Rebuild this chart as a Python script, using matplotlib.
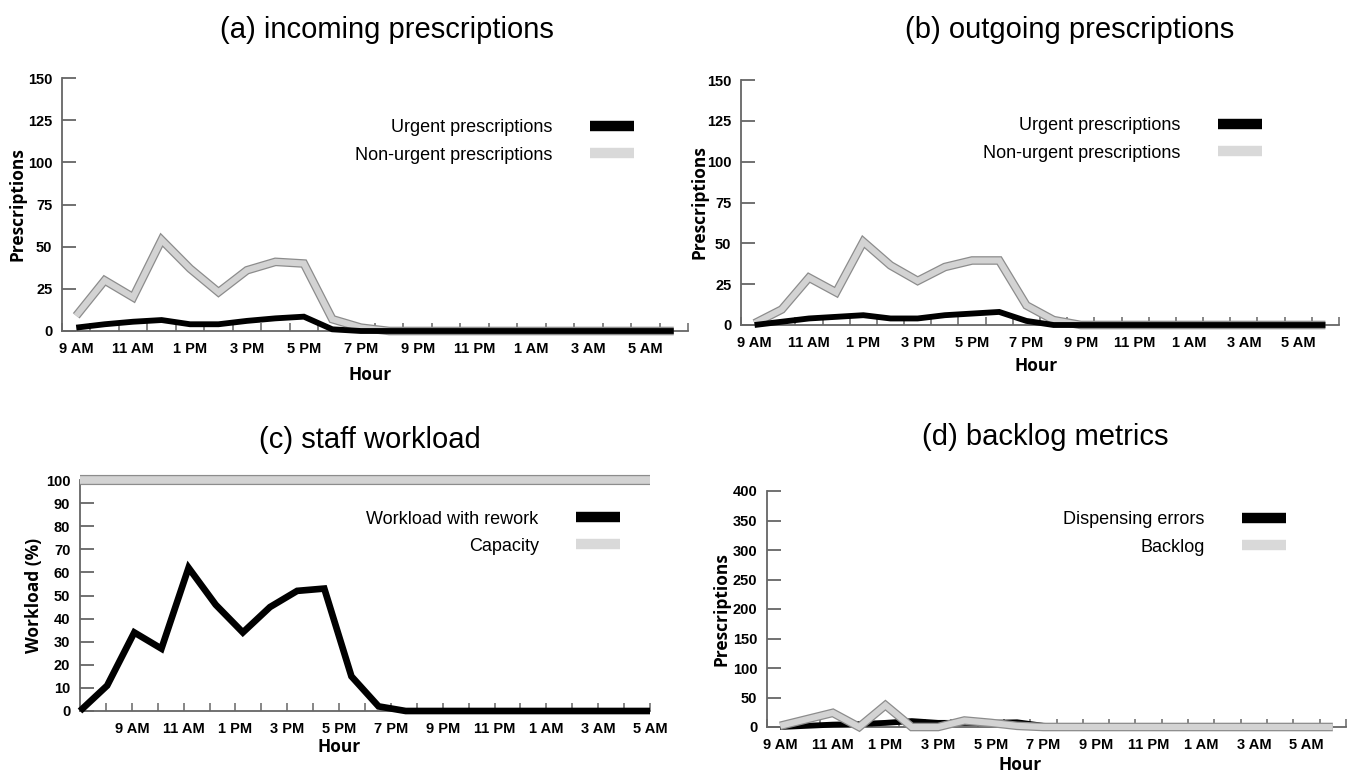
import matplotlib
matplotlib.use('Agg')
import matplotlib.pyplot as plt
import matplotlib.patheffects as pe
from matplotlib.lines import Line2D
from matplotlib.font_manager import FontProperties
import numpy as np

# ---------------- data ----------------
hours = ['9 AM', '10 AM', '11 AM', '12 PM', '1 PM', '2 PM', '3 PM', '4 PM', '5 PM',
         '6 PM', '7 PM', '8 PM', '9 PM', '10 PM', '11 PM', '12 AM', '1 AM', '2 AM',
         '3 AM', '4 AM', '5 AM', '6 AM']

a_urgent = [2, 4, 5.5, 6.5, 4, 4, 6, 7.5, 8.5, 1, 0, 0, 0, 0, 0, 0, 0, 0, 0, 0, 0, 0]
a_nonurgent = [9, 30, 20, 54, 37, 23, 36, 41, 40, 7, 2, 0, 0, 0, 0, 0, 0, 0, 0, 0, 0, 0]

b_urgent = [0, 2, 4, 5, 6, 4, 4, 6, 7, 8, 2.5, 0, 0, 0, 0, 0, 0, 0, 0, 0, 0, 0]
b_nonurgent = [1, 9.5, 29, 20, 51, 36.5, 27, 35.5, 39.5, 39.5, 12, 3, 0, 0, 0, 0, 0,
               0, 0, 0, 0, 0]

c_tick_hours = ['7 AM', '8 AM', '9 AM', '10 AM', '11 AM', '12 PM', '1 PM', '2 PM',
                '3 PM', '4 PM', '5 PM', '6 PM', '7 PM', '8 PM', '9 PM', '10 PM',
                '11 PM', '12 AM', '1 AM', '2 AM', '3 AM', '4 AM', '5 AM']
c_workload = [0, 11, 34, 27, 62, 46, 34, 45, 52, 53, 15, 2, 0, 0, 0, 0, 0, 0, 0, 0, 0, 0]
c_capacity = [100] * 22

d_errors = [0, 2, 4, 5, 7, 10, 7, 7, 7, 8, 2, 0, 0, 0, 0, 0, 0, 0, 0, 0, 0, 0]
d_backlog = [2, 13, 24, 0, 37, 0, 0, 11, 7, 2, 0, 0, 0, 0, 0, 0, 0, 0, 0, 0, 0, 0]

titles = ['(a) incoming prescriptions', '(b) outgoing prescriptions',
          '(c) staff workload', '(d) backlog metrics']

# ---------------- style ----------------
W, H = 1355, 774
AX_COL = '#666666'
GRAY = '#d3d3d3'
GRAY_EDGE = '#8c8c8c'
LEG_GRAY = '#d9d9d9'

tick_fp = FontProperties(family=['Liberation Sans Narrow', 'Liberation Sans'],
                         weight='bold', size=10.5)
label_fp = FontProperties(family=['Open Sans', 'DejaVu Sans'], weight='bold', size=12.5)
legend_fp = FontProperties(family=['Liberation Sans', 'DejaVu Sans'], size=13)
title_fp = FontProperties(family=['Liberation Sans', 'DejaVu Sans'], size=21)

fig = plt.figure(figsize=(W / 100, H / 100), dpi=100)


def px_axes(l, t, r, b):
    return fig.add_axes([l / W, 1 - b / H, (r - l) / W, (b - t) / H])


def style(ax, yticks):
    for s in ['top', 'right']:
        ax.spines[s].set_visible(False)
    for s in ['left', 'bottom']:
        ax.spines[s].set_color(AX_COL)
        ax.spines[s].set_linewidth(1.3)
    ax.set_ylim(yticks[0], yticks[-1])
    ax.set_yticks(yticks)
    ax.tick_params(axis='y', direction='in', length=10, width=1.3, color=AX_COL, pad=7)
    ax.set_facecolor('none')


def finish_labels(ax):
    for lab in ax.get_xticklabels() + ax.get_yticklabels():
        lab.set_fontproperties(tick_fp)


def draw_black(ax, x, y, lw=4.2):
    ax.plot(x, y, color='black', lw=lw, solid_joinstyle='miter',
            solid_capstyle='butt', clip_on=False, zorder=3)


def draw_gray(ax, x, y, lw=4.4, z=2):
    ax.plot(x, y, color=GRAY, lw=lw, solid_joinstyle='miter', solid_capstyle='butt',
            clip_on=False, zorder=z,
            path_effects=[pe.Stroke(linewidth=lw + 1.8, foreground=GRAY_EDGE),
                          pe.Normal()])


def legend(ax, labels, right_px, row1_px):
    handles = [Line2D([], [], color='black', lw=7.5, solid_capstyle='butt'),
               Line2D([], [], color=LEG_GRAY, lw=7.5, solid_capstyle='butt')]
    top = row1_px - 7.5
    ax.legend(handles, labels, loc='upper right',
              bbox_to_anchor=(right_px / W, 1 - top / H), bbox_transform=fig.transFigure,
              frameon=False, markerfirst=False, borderaxespad=0, borderpad=0,
              handlelength=2.45, handletextpad=2.05, labelspacing=0.56, prop=legend_fp)


def category_xaxis(ax, cats):
    n = len(cats)
    ax.set_xlim(-0.5, n - 0.5)
    idx = np.arange(n)
    ax.set_xticks(idx[::2])
    ax.set_xticklabels(cats[::2])
    ax.set_xticks(np.arange(n + 1) - 0.5, minor=True)
    ax.tick_params(axis='x', which='major', length=0, pad=8)
    ax.tick_params(axis='x', which='minor', direction='in', length=5.5, width=1.1,
                   color=AX_COL)
    return idx


def ylabel(ax, text, cx_px, left_px, width_px):
    ax.set_ylabel(text, fontproperties=label_fp)
    ax.yaxis.set_label_coords((cx_px + 9 - left_px) / width_px, 0.5)


def xlabel(ax, xfrac, cy_px, bottom_px, height_px):
    ax.set_xlabel('Hour', fontproperties=label_fp)
    ax.xaxis.set_label_coords(xfrac, (bottom_px - (cy_px - 9)) / height_px)


# ---------------- (a) ----------------
ax = px_axes(62, 78, 688, 331)
style(ax, [0, 25, 50, 75, 100, 125, 150])
x = category_xaxis(ax, hours)
draw_gray(ax, x, a_nonurgent)
draw_black(ax, x, a_urgent)
finish_labels(ax)
ylabel(ax, 'Prescriptions', 18, 62, 626)
xlabel(ax, 0.492, 375, 331, 253)
legend(ax, ['Urgent prescriptions', 'Non-urgent prescriptions'], 634, 127)

# ---------------- (b) ----------------
ax = px_axes(741, 80, 1339, 325)
style(ax, [0, 25, 50, 75, 100, 125, 150])
x = category_xaxis(ax, hours)
draw_gray(ax, x, b_nonurgent)
draw_black(ax, x, b_urgent)
finish_labels(ax)
ylabel(ax, 'Prescriptions', 700, 741, 598)
xlabel(ax, 0.493, 366, 325, 245)
legend(ax, ['Urgent prescriptions', 'Non-urgent prescriptions'], 1262, 125)

# ---------------- (c) ----------------
ax = px_axes(80, 480, 650, 711)
style(ax, list(range(0, 101, 10)))
ax.set_xlim(0, len(c_tick_hours) - 1)
tpos = np.arange(1, len(c_tick_hours))
ax.set_xticks(tpos)
ax.set_xticklabels([c_tick_hours[i] if i % 2 == 0 else '' for i in tpos])
ax.tick_params(axis='x', direction='in', length=5.5, width=1.1, color=AX_COL, pad=8)
finish_labels(ax)
ax2 = ax.twiny()
ax2.set_xlim(0, len(c_workload) - 1)
ax2.set_ylim(0, 100)
ax2.axis('off')
xd = np.arange(len(c_workload))
draw_gray(ax2, xd, c_capacity, lw=5.5)
draw_black(ax2, xd, c_workload, lw=4.8)
ylabel(ax, 'Workload (%)', 34, 80, 570)
xlabel(ax, 0.455, 747, 711, 231)
legend(ax2, ['Workload with rework', 'Capacity'], 620, 518)

# ---------------- (d) ----------------
ax = px_axes(767, 491, 1346, 727)
style(ax, list(range(0, 401, 50)))
x = category_xaxis(ax, hours)
draw_black(ax, x, d_errors)
draw_gray(ax, x, d_backlog, z=4)
finish_labels(ax)
ylabel(ax, 'Prescriptions', 721, 767, 579)
xlabel(ax, 0.437, 765, 727, 236)
legend(ax, ['Dispensing errors', 'Backlog'], 1286, 519)

# ---------------- titles ----------------
for t, (cx, cy) in zip(titles, [(387, 30), (1070, 30), (370, 440), (1045, 437)]):
    fig.text(cx / W, 1 - cy / H, t, ha='center', va='center', fontproperties=title_fp)

fig.savefig('out.png', dpi=100)
